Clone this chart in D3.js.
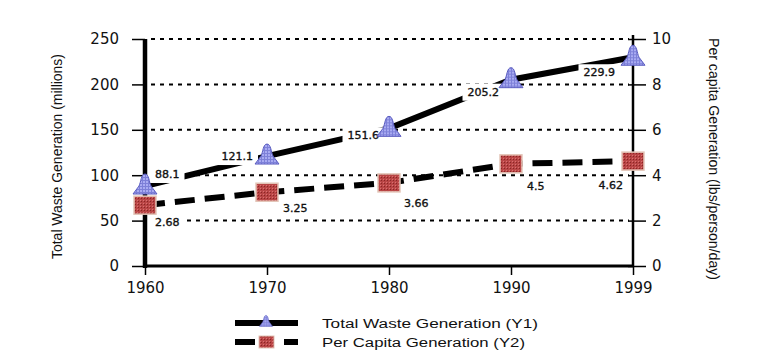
<!DOCTYPE html>
<html><head><meta charset="utf-8">
<script src="https://cdn.jsdelivr.net/npm/d3@7"></script>
<style>body{margin:0;background:#fff}svg{display:block}</style>
</head><body>
<svg id="c" width="768" height="360"></svg>
<script>
const years = ["1960","1970","1980","1990","1999"];
const totalWaste = [88.1, 121.1, 151.6, 205.2, 229.9];
const perCapita = [2.68, 3.25, 3.66, 4.5, 4.62];
const totalLabels = ["88.1","121.1","151.6","205.2","229.9"];
const perCapitaLabels = ["2.68","3.25","3.66","4.5","4.62"];
const leftTicks = [0,50,100,150,200,250];
const rightTicks = [0,2,4,6,8,10];

const svg = d3.select("#c");
const L = 145, R = 633, T = 39, B = 266;
const x = d3.scalePoint().domain(years).range([L, R]);
const y1 = d3.scaleLinear().domain([0,250]).range([B, T]);
const y2 = d3.scaleLinear().domain([0,10]).range([B, T]);
const font = "Arial, 'Liberation Sans', sans-serif";
const wfont = "'DejaVu Sans', Verdana, sans-serif";

const defs = svg.append("defs");
const pt = defs.append("pattern").attr("id","tri").attr("width",3).attr("height",3).attr("patternUnits","userSpaceOnUse");
pt.append("rect").attr("width",3).attr("height",3).attr("fill","#a9abf2");
pt.append("rect").attr("width",1).attr("height",3).attr("fill","#7d80d8");
pt.append("rect").attr("width",3).attr("height",1).attr("fill","#7d80d8");
const ps = defs.append("pattern").attr("id","sq").attr("width",3).attr("height",3).attr("patternUnits","userSpaceOnUse");
ps.append("rect").attr("width",3).attr("height",3).attr("fill","#b94545");
ps.append("rect").attr("width",1).attr("height",1).attr("fill","#8a2525");
ps.append("rect").attr("x",2).attr("y",2).attr("width",1).attr("height",1).attr("fill","#d97070");

// gridlines
svg.append("g").selectAll("line").data(leftTicks.filter(d=>d>0)).join("line")
  .attr("x1", L+6).attr("x2", R-4)
  .attr("y1", d=>y1(d)).attr("y2", d=>y1(d))
  .attr("stroke","#000").attr("stroke-width",2).attr("stroke-dasharray","4,5");

// left axis
const gl = svg.append("g").attr("transform",`translate(${L},0)`)
  .call(d3.axisLeft(y1).tickValues(leftTicks).tickSize(13).tickPadding(13));
gl.select(".domain").remove();
gl.selectAll(".tick line").attr("stroke-width",1.5);
gl.selectAll("text").attr("font-family",wfont).attr("font-size",15).attr("fill","#111");
svg.append("line").attr("x1",L).attr("x2",L).attr("y1",T).attr("y2",B+2).attr("stroke","#000").attr("stroke-width",4.5);

// right axis
const gr = svg.append("g").attr("transform",`translate(${R},0)`)
  .call(d3.axisRight(y2).tickValues(rightTicks).tickSizeInner(13).tickSizeOuter(0).tickPadding(6));
gr.select(".domain").remove();
gr.selectAll(".tick line").attr("x1",-5).attr("stroke-width",1.5);
gr.selectAll("text").attr("font-family",wfont).attr("font-size",15).attr("fill","#111");
svg.append("line").attr("x1",R).attr("x2",R).attr("y1",T-4).attr("y2",B).attr("stroke","#000").attr("stroke-width",2.5);

// bottom axis
const gb = svg.append("g").attr("transform",`translate(0,${B})`)
  .call(d3.axisBottom(x).tickSizeInner(9).tickSizeOuter(0).tickPadding(7));
gb.select(".domain").remove();
gb.selectAll(".tick line").attr("stroke-width",1.5);
gb.selectAll("text").attr("font-family",wfont).attr("font-size",15).attr("fill","#111");
svg.append("line").attr("x1",L).attr("x2",R).attr("y1",B).attr("y2",B).attr("stroke","#000").attr("stroke-width",3);

// axis titles
svg.append("text").attr("transform",`translate(62,${(T+B)/2+4}) rotate(-90)`)
  .attr("text-anchor","middle").attr("font-family",font).attr("font-size",14).attr("fill","#111")
  .attr("textLength",205).attr("lengthAdjust","spacingAndGlyphs")
  .text("Total Waste Generation (millions)");
svg.append("text").attr("transform",`translate(709,159) rotate(90)`)
  .attr("text-anchor","middle").attr("font-family",font).attr("font-size",14).attr("fill","#111")
  .attr("textLength",242).attr("lengthAdjust","spacingAndGlyphs")
  .text("Per capita Generation (lbs/person/day)");

// lines
const line1 = d3.line().x((d,i)=>x(years[i])).y(d=>y1(d));
const line2 = d3.line().x((d,i)=>x(years[i])).y(d=>y2(d));
svg.append("path").attr("d",line2(perCapita)).attr("fill","none").attr("stroke","#000")
  .attr("stroke-width",6).attr("stroke-dasharray","20,10");
svg.append("path").attr("d",line1(totalWaste)).attr("fill","none").attr("stroke","#000")
  .attr("stroke-width",6);

// labels with white backgrounds
const tOff = [[10,-12,"start"],[-14,0,"end"],[-10,7,"end"],[-12,12,"end"],[-18,15,"end"]];
const pOff = [[10,17,"start"],[16,16,"start"],[15,20,"start"],[16,22,"start"],[-10,24,"end"]];
function labels(vals, txt, sc, off){
  vals.forEach((v,i)=>{
    const [dx,dy,anc] = off[i];
    const g = svg.append("g");
    const t = g.append("text").attr("x",x(years[i])+dx).attr("y",sc(v)+dy+4)
      .attr("text-anchor",anc).attr("font-family",wfont).attr("font-size",11)
      .attr("fill","#111").attr("stroke","#111").attr("stroke-width",0.35).text(txt[i]);
    const bb = t.node().getBBox();
    g.insert("rect","text").attr("x",bb.x-5).attr("y",bb.y-2).attr("width",bb.width+10).attr("height",bb.height+4).attr("fill","#fff");
  });
}
labels(totalWaste, totalLabels, y1, tOff);
labels(perCapita, perCapitaLabels, y2, pOff);

// markers
const triPath = "M0,-12 C-4,-12 -4,-4 -6,0 L-12,8 L12,8 L6,0 C4,-4 4,-12 0,-12 Z";
svg.append("g").selectAll("path").data(totalWaste).join("path")
  .attr("transform",(d,i)=>`translate(${x(years[i])},${y1(d)})`)
  .attr("d",triPath)
  .attr("fill","url(#tri)").attr("stroke","#5a5cc0").attr("stroke-width",1);
svg.append("g").selectAll("rect").data(perCapita).join("rect")
  .attr("x",(d,i)=>x(years[i])-11).attr("y",d=>y2(d)-9).attr("width",22).attr("height",18)
  .attr("fill","url(#sq)").attr("stroke","#e3c5b8").attr("stroke-width",1.5);

// legend
const lg = svg.append("g");
lg.append("line").attr("x1",235).attr("x2",298).attr("y1",323).attr("y2",323).attr("stroke","#000").attr("stroke-width",6);
lg.append("path").attr("transform","translate(266,322) scale(0.55)")
  .attr("d",triPath).attr("fill","url(#tri)").attr("stroke","#5a5cc0");
lg.append("line").attr("x1",235).attr("x2",298).attr("y1",342).attr("y2",342).attr("stroke","#000").attr("stroke-width",6).attr("stroke-dasharray","20,10,8,11,6,0");
lg.append("rect").attr("x",259).attr("y",336).attr("width",15).attr("height",12)
  .attr("fill","url(#sq)").attr("stroke","#e3c5b8").attr("stroke-width",1);
lg.append("text").attr("x",322).attr("y",328).attr("font-family",font).attr("font-size",12.5).attr("fill","#111")
  .attr("textLength",216).attr("lengthAdjust","spacingAndGlyphs")
  .text("Total Waste Generation (Y1)");
lg.append("text").attr("x",322).attr("y",347).attr("font-family",font).attr("font-size",12.5).attr("fill","#111")
  .attr("textLength",203).attr("lengthAdjust","spacingAndGlyphs")
  .text("Per Capita Generation (Y2)");
</script>
</body></html>
